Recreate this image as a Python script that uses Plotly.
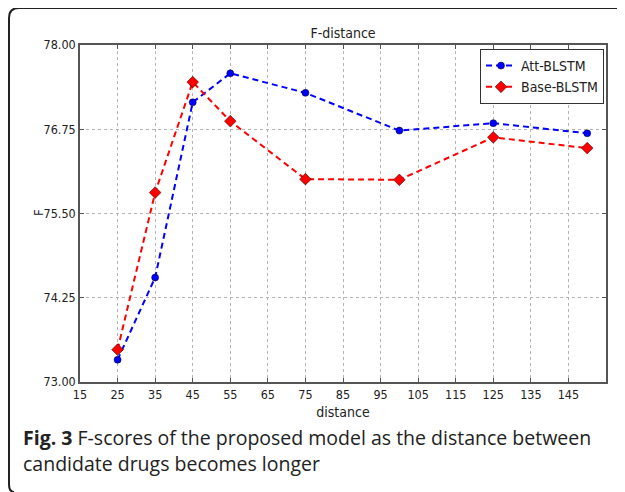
import plotly.graph_objects as go

distance = [25, 35, 45, 55, 75, 100, 125, 150]
att_blstm = [73.33, 74.55, 77.15, 77.58, 77.29, 76.73, 76.84, 76.69]
base_blstm = [73.48, 75.81, 77.45, 76.87, 76.01, 76.00, 76.63, 76.47]
x_ticks = [15, 25, 35, 45, 55, 65, 75, 85, 95, 105, 115, 125, 135, 145]
y_ticks = [73.00, 74.25, 75.50, 76.75, 78.00]
y_tick_labels = ["73.00", "74.25", "75.50", "76.75", "78.00"]

FONT = "DejaVu Sans Condensed, Liberation Sans Narrow, DejaVu Sans, sans-serif"

# the page body has an 8px margin; work in screen pixels and shift
OFF = 8
L, R, T, B = 80, 606, 45, 382   # plot area in screen pixels
W, H = 625, 492
FW, FH = W - OFF, H - OFF       # figure size


def px(x):
    return (x - L) / (R - L)


def py(y):
    return (B - y) / (B - T)


fig = go.Figure()
fig.add_trace(go.Scatter(
    x=distance, y=att_blstm, name="Att-BLSTM", mode="lines+markers",
    line=dict(color="#0000ff", width=2, dash="6px,4px"),
    marker=dict(symbol="circle", size=7, color="#0000ff",
                line=dict(color="#000000", width=0.5)),
))
fig.add_trace(go.Scatter(
    x=distance, y=base_blstm, name="Base-BLSTM", mode="lines+markers",
    line=dict(color="#ff0000", width=2, dash="6px,4px"),
    marker=dict(symbol="diamond", size=9, color="#ff0000",
                line=dict(color="#000000", width=0.5)),
))

axis_common = dict(
    showline=True, linecolor="#555555", linewidth=1.5, mirror="ticks",
    ticks="inside", ticklen=4, tickcolor="#555555",
    showgrid=True, gridcolor="#b4b4b4", griddash="dot", gridwidth=1,
    zeroline=False,
    tickfont=dict(family=FONT, size=12.5, color="#222222"),
)

fig.update_xaxes(
    range=[15, 155], tickmode="array", tickvals=x_ticks,
    title=dict(text="distance", font=dict(family=FONT, size=14, color="#222222"), standoff=6),
    **axis_common,
)
fig.update_yaxes(
    range=[73.0, 78.0], tickmode="array", tickvals=y_ticks, ticktext=y_tick_labels,
    **axis_common,
)

# outer rounded frame (top-left corner, left and top edges)
x0, x1, xr = px(9), px(19), px(640)
y0, y1 = py(8), py(18)
yb0, yb1 = py(484), py(492)
path = (f"M {xr},{y0} L {x1},{y0} Q {x0},{y0} {x0},{y1} "
        f"L {x0},{yb0} Q {x0},{yb1} {px(14)},{yb1}")

fig.update_layout(
    width=FW, height=FH,
    margin=dict(l=L - OFF, r=W - R, t=T - OFF, b=H - B),
    paper_bgcolor="white", plot_bgcolor="white",
    title=dict(text="F-distance", x=(343 - OFF) / FW, xanchor="center",
               y=1 - (33 - OFF) / FH, yanchor="middle",
               font=dict(family=FONT, size=14, color="#222222")),
    legend=dict(x=px(604), xanchor="right", y=py(49), yanchor="top",
                bordercolor="#333333", borderwidth=1, bgcolor="white",
                font=dict(family=FONT, size=14, color="#222222"),
                itemwidth=30, tracegroupgap=2),
    showlegend=True,
    shapes=[dict(type="path", path=path, xref="paper", yref="paper",
                 line=dict(color="#222222", width=2), layer="above")],
    annotations=[
        dict(text="F", x=px(38), y=py(213), xref="paper", yref="paper",
             xanchor="center", yanchor="middle", showarrow=False, textangle=-90,
             font=dict(family=FONT, size=13, color="#222222")),
        dict(text="<b>Fig. 3</b> F-scores of the proposed model as the distance between",
             x=px(21), y=py(437), xref="paper", yref="paper",
             xanchor="left", yanchor="middle", showarrow=False,
             font=dict(family="Open Sans, sans-serif", size=19.5, color="#222222")),
        dict(text="candidate drugs becomes longer",
             x=px(21), y=py(463), xref="paper", yref="paper",
             xanchor="left", yanchor="middle", showarrow=False,
             font=dict(family="Open Sans, sans-serif", size=19.5, color="#222222")),
    ],
)

fig.write_html("out.html")
